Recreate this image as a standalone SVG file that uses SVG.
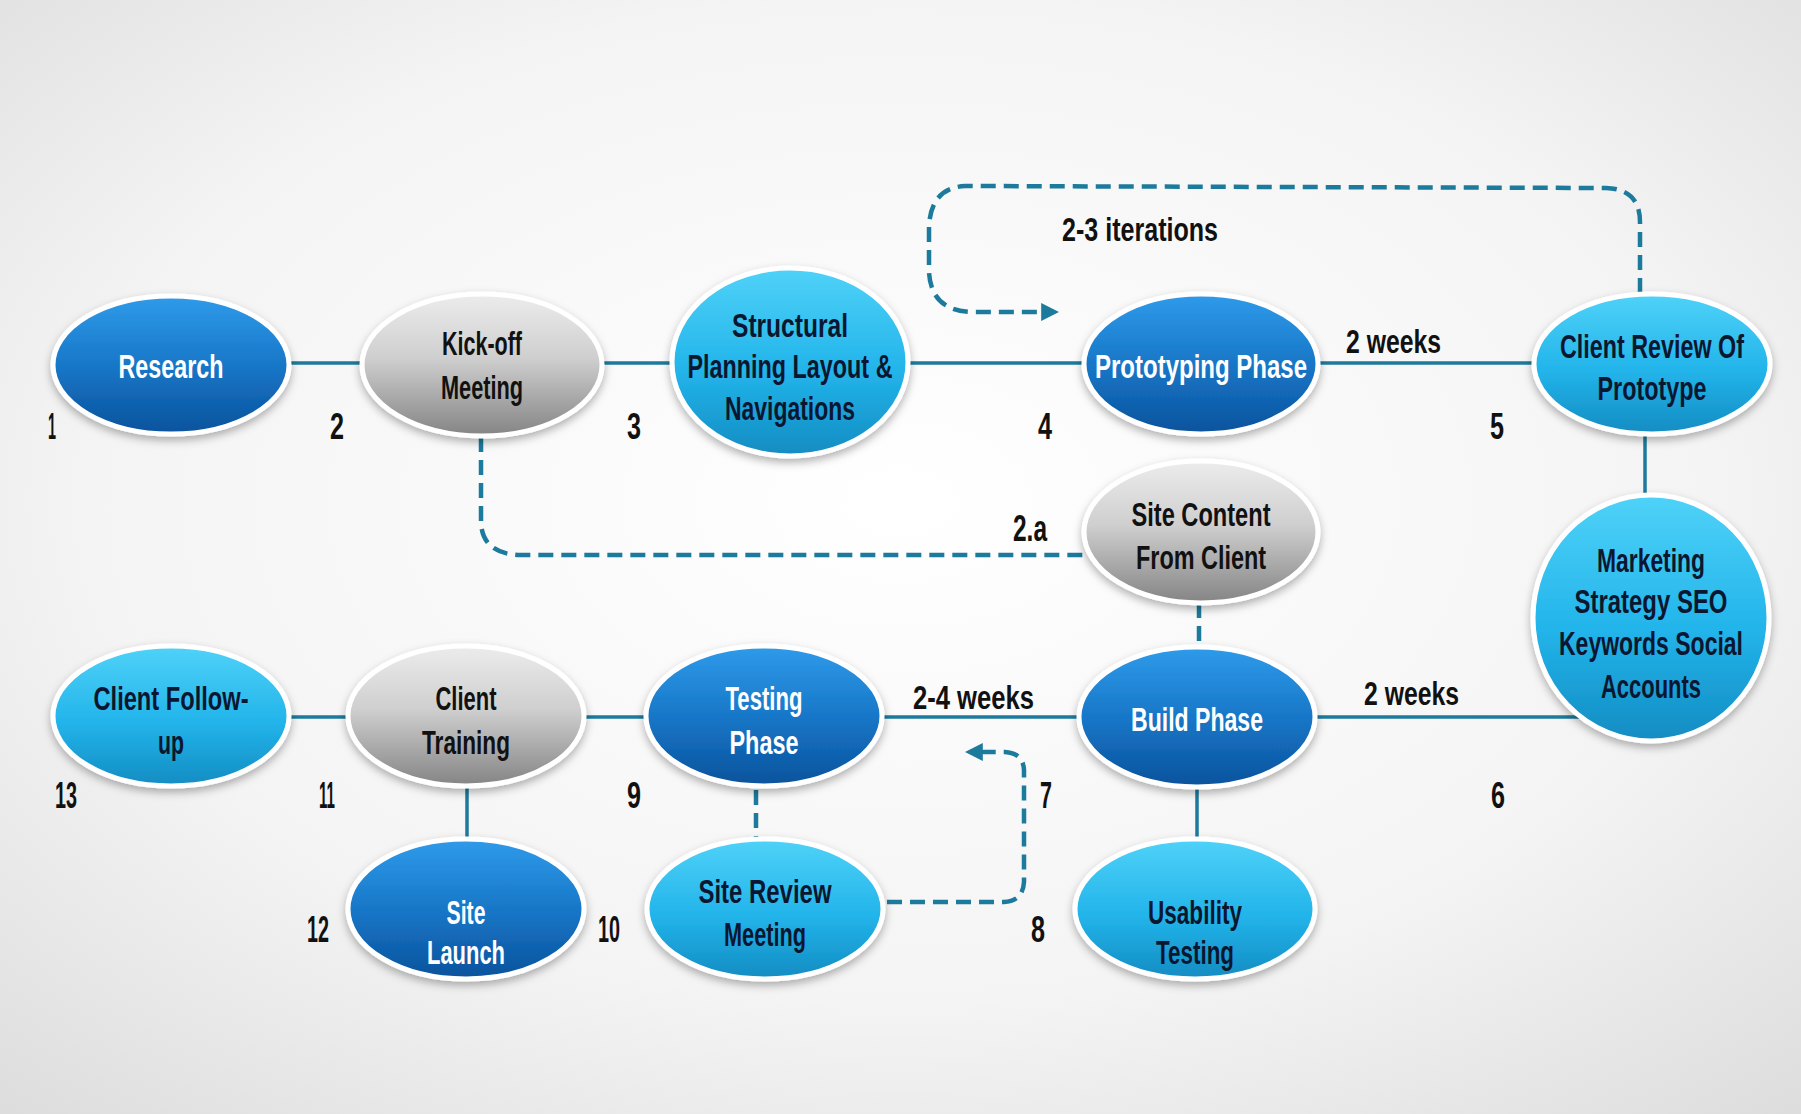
<svg xmlns="http://www.w3.org/2000/svg" width="1801" height="1114" viewBox="0 0 1801 1114">
<defs>
<radialGradient id="bg" cx="0.5" cy="0.45" r="0.75">
<stop offset="0" stop-color="#ffffff"/>
<stop offset="0.6" stop-color="#f4f4f4"/>
<stop offset="1" stop-color="#dcdcdc"/>
</radialGradient>
<linearGradient id="gBlue" x1="0" y1="0" x2="0" y2="1">
<stop offset="0" stop-color="#2f9bea"/>
<stop offset="0.5" stop-color="#1877c8"/>
<stop offset="1" stop-color="#0a529c"/>
</linearGradient>
<linearGradient id="gCyan" x1="0" y1="0" x2="0" y2="1">
<stop offset="0" stop-color="#4fd2f8"/>
<stop offset="0.55" stop-color="#22b4ea"/>
<stop offset="1" stop-color="#138cc2"/>
</linearGradient>
<linearGradient id="gGray" x1="0" y1="0" x2="0" y2="1">
<stop offset="0" stop-color="#ececec"/>
<stop offset="0.45" stop-color="#cfcfcf"/>
<stop offset="1" stop-color="#848484"/>
</linearGradient>
<filter id="sh" x="-20%" y="-20%" width="140%" height="150%">
<feDropShadow dx="0" dy="4" stdDeviation="4" flood-color="#000" flood-opacity="0.3"/>
</filter>
<marker id="arr" viewBox="0 0 10 10" refX="6" refY="5" markerWidth="4" markerHeight="4" orient="auto" markerUnits="strokeWidth">
<path d="M0,0 L10,5 L0,10 Z" fill="#1c7a9c"/>
</marker>
</defs>
<style>
.solid{stroke:#1c7a9c;stroke-width:3.5;fill:none}
.dash{stroke:#1c7a9c;stroke-width:4.5;fill:none;stroke-dasharray:15 8}
.node{stroke:#ffffff;stroke-width:5;filter:url(#sh)}
.blue{fill:url(#gBlue)}
.cyan{fill:url(#gCyan)}
.gray{fill:url(#gGray)}
text{font-family:"Liberation Sans",Arial,sans-serif;font-weight:bold;text-anchor:middle}
.tw{fill:#ffffff;font-size:34px}
.td{fill:#0b1730;font-size:34px}
.tg{fill:#111111;font-size:34px}
.num{fill:#111111;font-size:36px}
.lbl{fill:#111111;font-size:34px;text-anchor:start}
</style>
<rect x="0" y="0" width="1801" height="1114" fill="url(#bg)"/>
<g id="connectors">
<line class="solid" x1="285" y1="363" x2="365" y2="363"/>
<line class="solid" x1="600" y1="363" x2="675" y2="363"/>
<line class="solid" x1="905" y1="363" x2="1088" y2="363"/>
<line class="solid" x1="1315" y1="363" x2="1537" y2="363"/>
<line class="solid" x1="1645" y1="430" x2="1645" y2="498"/>
<line class="solid" x1="1310" y1="717" x2="1582" y2="717"/>
<line class="solid" x1="878" y1="717" x2="1082" y2="717"/>
<line class="solid" x1="583" y1="717" x2="650" y2="717"/>
<line class="solid" x1="286" y1="717" x2="352" y2="717"/>
<line class="solid" x1="467" y1="783" x2="467" y2="842"/>
<line class="solid" x1="1197" y1="783" x2="1197" y2="842"/>
<line class="dash" x1="756" y1="790" x2="756" y2="840"/>
<line class="dash" x1="1199" y1="603" x2="1199" y2="648"/>
<path class="dash" d="M481,437 L481,522 Q482,553 518,555 L1090,555"/>
<path class="dash" d="M1640,293 L1640,222 Q1640,189 1606,188 L965,186 Q930,188 929,228 L929,272 Q931,310 970,312 L1052,312" marker-end="url(#arr)"/>
<path class="dash" d="M887,902 L1004,902 Q1023,901 1024,882 L1024,770 Q1023,753 1005,752 L972,752" marker-end="url(#arr)"/>
</g>
<g id="n1"><ellipse class="node blue" cx="171" cy="365" rx="118" ry="69"/><text class="tw" x="171" y="378" textLength="105" lengthAdjust="spacingAndGlyphs">Research</text></g>
<g id="n2"><ellipse class="node gray" cx="482" cy="365" rx="120" ry="71"/><text class="tg" x="482" y="355" textLength="80" lengthAdjust="spacingAndGlyphs">Kick-off</text><text class="tg" x="482" y="399" textLength="82" lengthAdjust="spacingAndGlyphs">Meeting</text></g>
<g id="n3"><ellipse class="node cyan" cx="790" cy="362" rx="118" ry="94"/><text class="td" x="790" y="337" textLength="116" lengthAdjust="spacingAndGlyphs">Structural</text><text class="td" x="790" y="378" textLength="205" lengthAdjust="spacingAndGlyphs">Planning  Layout &amp;</text><text class="td" x="790" y="420" textLength="130" lengthAdjust="spacingAndGlyphs">Navigations</text></g>
<g id="n4"><ellipse class="node blue" cx="1201" cy="364" rx="117" ry="70"/><text class="tw" x="1201" y="378" textLength="212" lengthAdjust="spacingAndGlyphs">Prototyping  Phase</text></g>
<g id="n5"><ellipse class="node cyan" cx="1652" cy="364" rx="118" ry="70"/><text class="td" x="1652" y="358" textLength="184" lengthAdjust="spacingAndGlyphs">Client  Review  Of</text><text class="td" x="1652" y="400" textLength="109" lengthAdjust="spacingAndGlyphs">Prototype</text></g>
<g id="n2a"><ellipse class="node gray" cx="1201" cy="532" rx="117" ry="71"/><text class="tg" x="1201" y="526" textLength="139" lengthAdjust="spacingAndGlyphs">Site  Content</text><text class="tg" x="1201" y="569" textLength="130" lengthAdjust="spacingAndGlyphs">From  Client</text></g>
<g id="n6"><ellipse class="node cyan" cx="1651" cy="618" rx="118" ry="123"/><text class="td" x="1651" y="572" textLength="108" lengthAdjust="spacingAndGlyphs">Marketing</text><text class="td" x="1651" y="613" textLength="153" lengthAdjust="spacingAndGlyphs">Strategy  SEO</text><text class="td" x="1651" y="655" textLength="184" lengthAdjust="spacingAndGlyphs">Keywords  Social</text><text class="td" x="1651" y="698" textLength="100" lengthAdjust="spacingAndGlyphs">Accounts</text></g>
<g id="n7"><ellipse class="node blue" cx="1197" cy="717" rx="118" ry="70"/><text class="tw" x="1197" y="731" textLength="132" lengthAdjust="spacingAndGlyphs">Build  Phase</text></g>
<g id="n8"><ellipse class="node cyan" cx="1195" cy="909" rx="120" ry="70"/><text class="td" x="1195" y="924" textLength="94" lengthAdjust="spacingAndGlyphs">Usability</text><text class="td" x="1195" y="964" textLength="78" lengthAdjust="spacingAndGlyphs">Testing</text></g>
<g id="n9"><ellipse class="node blue" cx="764" cy="716" rx="118" ry="70"/><text class="tw" x="764" y="710" textLength="77" lengthAdjust="spacingAndGlyphs">Testing</text><text class="tw" x="764" y="754" textLength="69" lengthAdjust="spacingAndGlyphs">Phase</text></g>
<g id="n10"><ellipse class="node cyan" cx="765" cy="909" rx="118" ry="70"/><text class="td" x="765" y="903" textLength="133" lengthAdjust="spacingAndGlyphs">Site  Review</text><text class="td" x="765" y="946" textLength="82" lengthAdjust="spacingAndGlyphs">Meeting</text></g>
<g id="n11"><ellipse class="node gray" cx="466" cy="716" rx="118" ry="70"/><text class="tg" x="466" y="710" textLength="61" lengthAdjust="spacingAndGlyphs">Client</text><text class="tg" x="466" y="754" textLength="88" lengthAdjust="spacingAndGlyphs">Training</text></g>
<g id="n12"><ellipse class="node blue" cx="466" cy="909" rx="118" ry="70"/><text class="tw" x="466" y="924" textLength="39" lengthAdjust="spacingAndGlyphs">Site</text><text class="tw" x="466" y="964" textLength="78" lengthAdjust="spacingAndGlyphs">Launch</text></g>
<g id="n13"><ellipse class="node cyan" cx="171" cy="716" rx="118" ry="70"/><text class="td" x="171" y="710" textLength="155" lengthAdjust="spacingAndGlyphs">Client  Follow-</text><text class="td" x="171" y="754" textLength="26" lengthAdjust="spacingAndGlyphs">up</text></g>
<g id="labels">
<text class="num" x="52" y="439" textLength="8" lengthAdjust="spacingAndGlyphs">1</text>
<text class="num" x="337" y="439" textLength="14" lengthAdjust="spacingAndGlyphs">2</text>
<text class="num" x="634" y="439" textLength="14" lengthAdjust="spacingAndGlyphs">3</text>
<text class="num" x="1045" y="439" textLength="14" lengthAdjust="spacingAndGlyphs">4</text>
<text class="num" x="1497" y="439" textLength="14" lengthAdjust="spacingAndGlyphs">5</text>
<text class="num" x="1030" y="541" textLength="34" lengthAdjust="spacingAndGlyphs">2.a</text>
<text class="num" x="1498" y="808" textLength="14" lengthAdjust="spacingAndGlyphs">6</text>
<text class="num" x="1046" y="808" textLength="12" lengthAdjust="spacingAndGlyphs">7</text>
<text class="num" x="1038" y="942" textLength="14" lengthAdjust="spacingAndGlyphs">8</text>
<text class="num" x="634" y="808" textLength="14" lengthAdjust="spacingAndGlyphs">9</text>
<text class="num" x="609" y="942" textLength="22" lengthAdjust="spacingAndGlyphs">10</text>
<text class="num" x="327" y="808" textLength="16" lengthAdjust="spacingAndGlyphs">11</text>
<text class="num" x="318" y="942" textLength="22" lengthAdjust="spacingAndGlyphs">12</text>
<text class="num" x="66" y="808" textLength="22" lengthAdjust="spacingAndGlyphs">13</text>
<text class="lbl" x="1062" y="241" textLength="156" lengthAdjust="spacingAndGlyphs">2-3 iterations</text>
<text class="lbl" x="1346" y="353" textLength="95" lengthAdjust="spacingAndGlyphs">2 weeks</text>
<text class="lbl" x="913" y="709" textLength="121" lengthAdjust="spacingAndGlyphs">2-4 weeks</text>
<text class="lbl" x="1364" y="705" textLength="95" lengthAdjust="spacingAndGlyphs">2 weeks</text>
</g>
</svg>
